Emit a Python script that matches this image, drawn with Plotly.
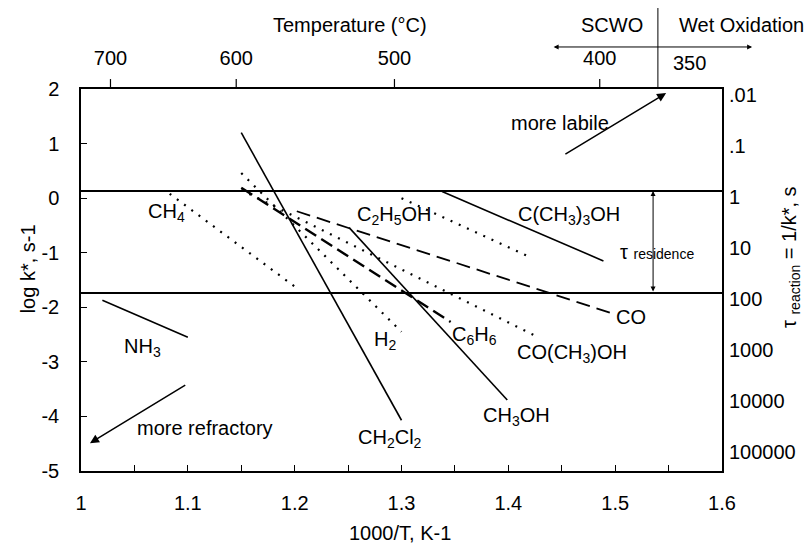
import plotly.graph_objects as go

# 1000/T (K^-1) and log k* (s^-1) end points for each Arrhenius line
nh3_x = [1.020, 1.100]
nh3_y = [-1.87, -2.55]
ch4_x = [1.083, 1.200]
ch4_y = [0.08, -1.62]
ch2cl2_x = [1.150, 1.300]
ch2cl2_y = [1.20, -4.07]
h2_x = [1.150, 1.300]
h2_y = [0.46, -2.45]
c6h6_x = [1.150, 1.346]
c6h6_y = [0.19, -2.27]
coch3oh_x = [1.150, 1.428]
coch3oh_y = [0.15, -2.55]
co_x = [1.202, 1.497]
co_y = [-0.24, -2.11]
ch3oh_x = [1.251, 1.399]
ch3oh_y = [-0.54, -3.70]
c2h5oh_x = [1.300, 1.418]
c2h5oh_y = [0.00, -1.06]
tbuoh_x = [1.338, 1.489]
tbuoh_y = [0.12, -1.15]

# axis ticks
x_ticks = [1.0, 1.1, 1.2, 1.3, 1.4, 1.5, 1.6]
x_ticktext = ["1", "1.1", "1.2", "1.3", "1.4", "1.5", "1.6"]
y_ticks = [2, 1, 0, -1, -2, -3, -4, -5]
y_ticktext = ["2", "1", "0", "-1", "-2", "-3", "-4", "-5"]
temp_c = [700, 600, 500, 400]
tau_exp = [-2, -1, 0, 1, 2, 3, 4, 5]
tau_text = [".01", ".1", "1", "10", "100", "1000", "10000", "100000"]

# residence-time window (log10 tau, s) and SCWO / wet-oxidation boundary (1000/T)
residence_lo, residence_hi = 0, 2
scwo_x = 1.54

FONT = "Liberation Sans, Arial, sans-serif"
FS = 20
TXT = dict(family=FONT, size=FS, color="black")

fig = go.Figure()

solid = dict(color="black", width=1.6)
dotted = dict(color="black", width=2.2, dash="2px,7px")
dashed = dict(color="black", width=1.8, dash="14px,7px")
dashed_heavy = dict(color="black", width=2.4, dash="13px,6px")

series = [
    (nh3_x, nh3_y, solid),
    (ch4_x, ch4_y, dotted),
    (ch2cl2_x, ch2cl2_y, solid),
    (h2_x, h2_y, dotted),
    (c6h6_x, c6h6_y, dashed_heavy),
    (coch3oh_x, coch3oh_y, dotted),
    (co_x, co_y, dashed),
    (ch3oh_x, ch3oh_y, solid),
    (c2h5oh_x, c2h5oh_y, dotted),
    (tbuoh_x, tbuoh_y, solid),
]
for xs, ys, ln in series:
    fig.add_trace(go.Scatter(x=xs, y=ys, mode="lines", line=ln,
                             showlegend=False, hoverinfo="skip"))

# invisible trace so the secondary axes are laid out
fig.add_trace(go.Scatter(x=[1.3], y=[0], xaxis="x2", yaxis="y2", mode="markers",
                         marker=dict(opacity=0), showlegend=False, hoverinfo="skip"))

# residence-time limits
for v in (residence_lo, residence_hi):
    fig.add_shape(type="line", xref="paper", x0=0, x1=1, yref="y2", y0=v, y1=v,
                  line=dict(color="black", width=1.8))

# SCWO / wet oxidation divider above the plot
fig.add_shape(type="line", xref="x", x0=scwo_x, x1=scwo_x, yref="paper", y0=1, y1=1.212,
              line=dict(color="black", width=1))

inv_t = [1000.0 / (t + 273.15) for t in temp_c]

# outward tick marks for the temperature scale on the top border
for xv in inv_t:
    fig.add_shape(type="line", xref="x", x0=xv, x1=xv, yref="paper", y0=1, y1=1.026,
                  line=dict(color="black", width=1.2))

labels = [
    (1.080, -0.27, "CH<sub>4</sub>"),
    (1.293, -0.31, "C<sub>2</sub>H<sub>5</sub>OH"),
    (1.457, -0.31, "C(CH<sub>3</sub>)<sub>3</sub>OH"),
    (1.058, -2.73, "NH<sub>3</sub>"),
    (1.285, -2.60, "H<sub>2</sub>"),
    (1.368, -2.51, "C<sub>6</sub>H<sub>6</sub>"),
    (1.515, -2.18, "CO"),
    (1.460, -2.84, "CO(CH<sub>3</sub>)OH"),
    (1.408, -4.01, "CH<sub>3</sub>OH"),
    (1.289, -4.40, "CH<sub>2</sub>Cl<sub>2</sub>"),
    (1.448, 1.38, "more labile"),
    (1.116, -4.21, "more refractory"),
]
for x, y, t in labels:
    fig.add_annotation(x=x, y=y, text=t, showarrow=False, font=TXT,
                       xanchor="center", yanchor="middle")

# tau residence label
fig.add_annotation(x=1.539, y=-0.99, text="τ <span style='font-size:14px'>residence</span>",
                   showarrow=False, font=TXT, xanchor="center", yanchor="middle")

# arrows: more labile / more refractory
fig.add_annotation(x=1.5477, y=1.925, ax=1.452, ay=0.79, axref="x", ayref="y",
                   text="", showarrow=True, arrowhead=2, arrowsize=1.2,
                   arrowwidth=1.5, arrowcolor="black")
fig.add_annotation(x=1.0084, y=-4.49, ax=1.099, ay=-3.41, axref="x", ayref="y",
                   text="", showarrow=True, arrowhead=2, arrowsize=1.2,
                   arrowwidth=1.5, arrowcolor="black")

# residence double arrow
fig.add_annotation(x=1.5355, y=residence_lo, ax=1.5355, ay=residence_hi,
                   xref="x", yref="y2", axref="x", ayref="y2",
                   text="", showarrow=True, arrowhead=2, arrowside="end+start",
                   arrowsize=1, arrowwidth=1, arrowcolor="black")

# SCWO <-> wet oxidation double arrow (above the plot, paper coordinates)
fig.add_annotation(xref="paper", yref="paper", x=1.047, y=1.11, ax=-200, ay=0,
                   text="", showarrow=True, arrowhead=2, arrowside="end+start",
                   arrowsize=1, arrowwidth=1, arrowcolor="black")


def paper_text(x, y, text, xanchor="center", angle=0):
    fig.add_annotation(xref="paper", yref="paper", x=x, y=y, text=text,
                       showarrow=False, font=TXT, xanchor=xanchor,
                       yanchor="middle", textangle=angle)


# texts outside the plot area
paper_text(0.4197, 1.167, "Temperature (°C)")
paper_text(0.880, 1.167, "SCWO", xanchor="right")
paper_text(0.930, 1.167, "Wet Oxidation", xanchor="left")
paper_text(0.950, 1.067, "350")
paper_text(0.4977, -0.162, "1000/T, K-1")
paper_text(-0.083, 0.53, "log k*, s-1", angle=-90)
paper_text(1.106, 0.56, "τ <sub>reaction</sub> = 1/k*, s", angle=-90)

fig.update_layout(
    width=805, height=543,
    margin=dict(l=81, r=83, t=89, b=72),
    paper_bgcolor="white", plot_bgcolor="white",
    font=TXT,
    xaxis=dict(range=[1, 1.6], tickvals=x_ticks, ticktext=x_ticktext,
               ticks="inside", ticklen=6, tickcolor="black", tickwidth=1,
               minor=dict(dtick=0.05, tick0=1, ticks="inside", ticklen=6,
                          tickcolor="black"),
               showline=True, linecolor="black", linewidth=1.5, mirror=True,
               showgrid=False, zeroline=False, ticklabelstandoff=13,
               automargin=False),
    yaxis=dict(range=[-5, 2], tickvals=y_ticks, ticktext=y_ticktext,
               ticks="inside", ticklen=6, tickcolor="black",
               showline=True, linecolor="black", linewidth=1.5, mirror=True,
               showgrid=False, zeroline=False, ticklabelstandoff=16,
               automargin=False),
    xaxis2=dict(overlaying="x", side="top", anchor="y", range=[1, 1.6],
                tickmode="array", tickvals=inv_t,
                ticktext=[str(t) for t in temp_c], ticks="", showgrid=False,
                zeroline=False, showline=True, linecolor="black", linewidth=1.5,
                ticklabelstandoff=14, automargin=False),
    yaxis2=dict(overlaying="y", side="right", range=[5.49, -2], tickvals=tau_exp,
                ticktext=tau_text, ticks="", showgrid=False, zeroline=False,
                showline=False, ticklabelstandoff=6, ticklabelshift=-6,
                automargin=False),
)

fig.write_html("out.html")
